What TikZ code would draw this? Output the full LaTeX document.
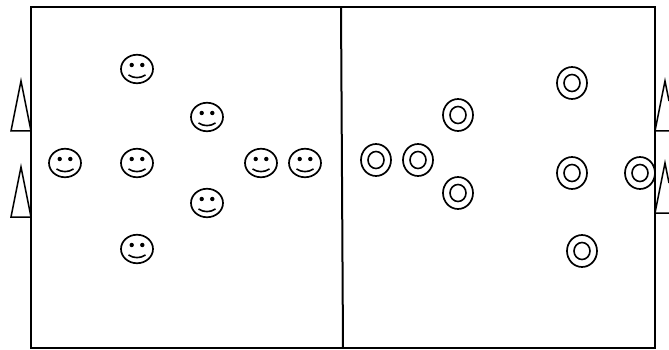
\documentclass[tikz,border=0pt]{standalone}
\usepackage{xcolor}
\usetikzlibrary{positioning,shapes.geometric}

\begin{document}
\begin{tikzpicture}[
    x=1pt,y=-1pt,
    line/.style={draw,line width=2pt},
    cone/.style={draw,line width=1.5pt,line join=miter},
    face/.style={ellipse,draw,line width=1.7pt,minimum width=32pt,minimum height=28.5pt,inner sep=0pt,
        path picture={
            \fill ([shift={(-5.3,-4)}]path picture bounding box.center) circle (2.2pt);
            \fill ([shift={(5.3,-4)}]path picture bounding box.center) circle (2.2pt);
            \draw[line width=1.6pt] ([shift={(-8.5,6)}]path picture bounding box.center)
                .. controls ([shift={(-3,9.5)}]path picture bounding box.center) and ([shift={(3,9.5)}]path picture bounding box.center)
                .. ([shift={(8.5,6)}]path picture bounding box.center);
        }},
    ring/.style={ellipse,draw,line width=1.7pt,minimum width=30pt,minimum height=32pt,inner sep=0pt,
        path picture={
            \draw[line width=1.6pt] (path picture bounding box.center) ellipse (8pt and 8.5pt);
        }}
]
\useasboundingbox (0,0) rectangle (669,350);
% field
\node[line,rectangle,inner sep=0pt,minimum width=624pt,minimum height=341pt] (field) at (343,177.5) {};
\coordinate (midtop) at (341,7);
\coordinate (midbottom) at (343,348);
\draw[line] (midtop) -- (midbottom);
% cones
\draw[cone] (31,131) -- (21,81) -- (11,131) -- cycle;
\draw[cone] (31,217) -- (21,167) -- (11,217) -- cycle;
\draw[cone] (669,131) -- (655,131) -- (665,81) -- (669,101);
\draw[cone] (669,213) -- (655,213) -- (665,163) -- (669,183);
% left team
\node[face] (f1) at (137,69) {};
\node[face] (f2) at (207,117) {};
\node[face] (f3) at (65,163) {};
\node[face] (f4) at (137,163) {};
\node[face] (f5) at (261,163) {};
\node[face] (f6) at (305,163) {};
\node[face] (f7) at (207,203) {};
\node[face] (f8) at (137,249) {};
% right team
\node[ring] (r1) at (572,83) {};
\node[ring] (r2) at (458,115) {};
\node[ring] (r3) at (376,160) {};
\node[ring] (r4) at (418,160) {};
\node[ring] (r5) at (458,193) {};
\node[ring] (r6) at (572,173) {};
\node[ring] (r7) at (640,173) {};
\node[ring] (r8) at (582,251) {};
\end{tikzpicture}
\end{document}
